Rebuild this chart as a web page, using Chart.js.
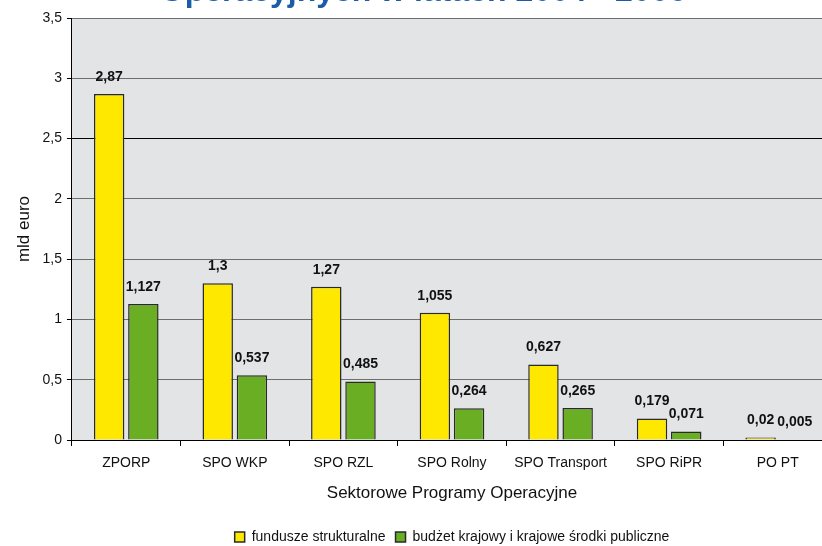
<!DOCTYPE html>
<html>
<head>
<meta charset="utf-8">
<script src="https://cdn.jsdelivr.net/npm/chart.js@4.4.0/dist/chart.umd.min.js"></script>
<style>
  html, body { margin: 0; padding: 0; background: #fff; overflow: hidden; }
  #wrap { position: absolute; left: 0; top: -29px; width: 850px; height: 583px; }
</style>
</head>
<body>
<div id="wrap"><canvas id="chart_spo"></canvas></div>
<script>
// dane z wykresu (mld euro)
const programy = ['ZPORP', 'SPO WKP', 'SPO RZL', 'SPO Rolny', 'SPO Transport', 'SPO RiPR', 'PO PT'];
const fundusze = [2.87, 1.3, 1.27, 1.055, 0.627, 0.179, 0.02];
const budzet = [1.127, 0.537, 0.485, 0.264, 0.265, 0.071, 0.005];
const nazwySerii = ['fundusze strukturalne', 'budżet krajowy i krajowe środki publiczne'];
const tytul = 'Operacyjnych w latach 2004 - 2006';

const FONT = "'Liberation Sans', Arial, sans-serif";
const fmt = v => String(v).replace('.', ',');

// szare tło obszaru wykresu
const tloPlugin = {
  id: 'tlo',
  beforeDraw(chart) {
    const { ctx, chartArea: a } = chart;
    ctx.save();
    ctx.fillStyle = '#e3e4e6';
    ctx.fillRect(a.left, a.top, a.right - a.left, a.bottom - a.top);
    ctx.restore();
  }
};

// przesunięcie legendy i tytułu na środek osi
const przesunPlugin = {
  id: 'przesun',
  afterLayout(chart) {
    if (chart.legend) { chart.legend.left += 36; chart.legend.right += 36; }
    if (chart.titleBlock) { chart.titleBlock.left += 7; chart.titleBlock.right += 7; }
  }
};

// etykiety wartości nad słupkami
const etykietyPlugin = {
  id: 'etykiety',
  afterDatasetsDraw(chart) {
    const ctx = chart.ctx;
    ctx.save();
    ctx.font = 'bold 14px ' + FONT;
    ctx.fillStyle = '#111';
    ctx.textAlign = 'center';
    ctx.textBaseline = 'middle';
    chart.data.datasets.forEach((ds, i) => {
      chart.getDatasetMeta(i).data.forEach((bar, j) => {
        ctx.fillText(fmt(ds.data[j]), bar.x, bar.y - 17);
      });
    });
    ctx.restore();
  }
};

const ctxSpo = document.getElementById('chart_spo').getContext('2d');

const cfgSpo = {
  type: 'bar',
  data: {
    labels: programy,
    datasets: [{
      label: nazwySerii[0],
      data: fundusze,
      backgroundColor: '#ffe800',
      borderColor: '#2a2a2a',
      borderWidth: 1.5
    }, {
      label: nazwySerii[1],
      data: budzet,
      backgroundColor: '#6aaf23',
      borderColor: '#2a2a2a',
      borderWidth: 1.5
    }]
  },
  options: {
    responsive: true,
    maintainAspectRatio: false,
    animation: false,
    categoryPercentage: 0.63,
    barPercentage: 0.89,
    layout: { padding: { left: 0, right: 18, top: 0, bottom: 0 } },
    plugins: {
      title: {
        display: true,
        text: tytul,
        color: '#1a5ca8',
        font: { family: FONT, size: 32, weight: 'bold' },
        padding: { top: 1.6, bottom: 7 }
      },
      legend: {
        position: 'bottom',
        labels: {
          color: '#111',
          font: { family: FONT, size: 14 },
          boxWidth: 10,
          boxHeight: 10,
          padding: 10
        }
      },
      tooltip: { enabled: false }
    },
    scales: {
      x: {
        title: {
          display: true,
          text: 'Sektorowe Programy Operacyjne',
          color: '#111',
          font: { family: FONT, size: 17 },
          padding: { top: 2, bottom: 16.8 }
        },
        ticks: {
          color: '#111',
          font: { family: FONT, size: 14 },
          padding: 9,
          maxRotation: 0
        },
        grid: {
          offset: true,
          drawOnChartArea: false,
          tickLength: 6,
          tickColor: '#000'
        },
        border: { color: '#000', width: 1 }
      },
      y: {
        min: 0,
        max: 3.5,
        title: {
          display: true,
          text: 'mld euro',
          color: '#111',
          font: { family: FONT, size: 17 },
          padding: { top: 14.3, bottom: 2.8 }
        },
        ticks: {
          stepSize: 0.5,
          color: '#111',
          font: { family: FONT, size: 14 },
          padding: 5,
          callback: v => fmt(v)
        },
        grid: {
          color: c => (c.tick && c.tick.value === 2.5) ? '#000' : '#6e6e6e',
          tickLength: 5,
          tickColor: '#000'
        },
        border: { color: '#000', width: 1 }
      }
    }
  },
  plugins: [tloPlugin, przesunPlugin, etykietyPlugin]
};

const chartSpo = new Chart(ctxSpo, cfgSpo);
</script>
</body>
</html>
